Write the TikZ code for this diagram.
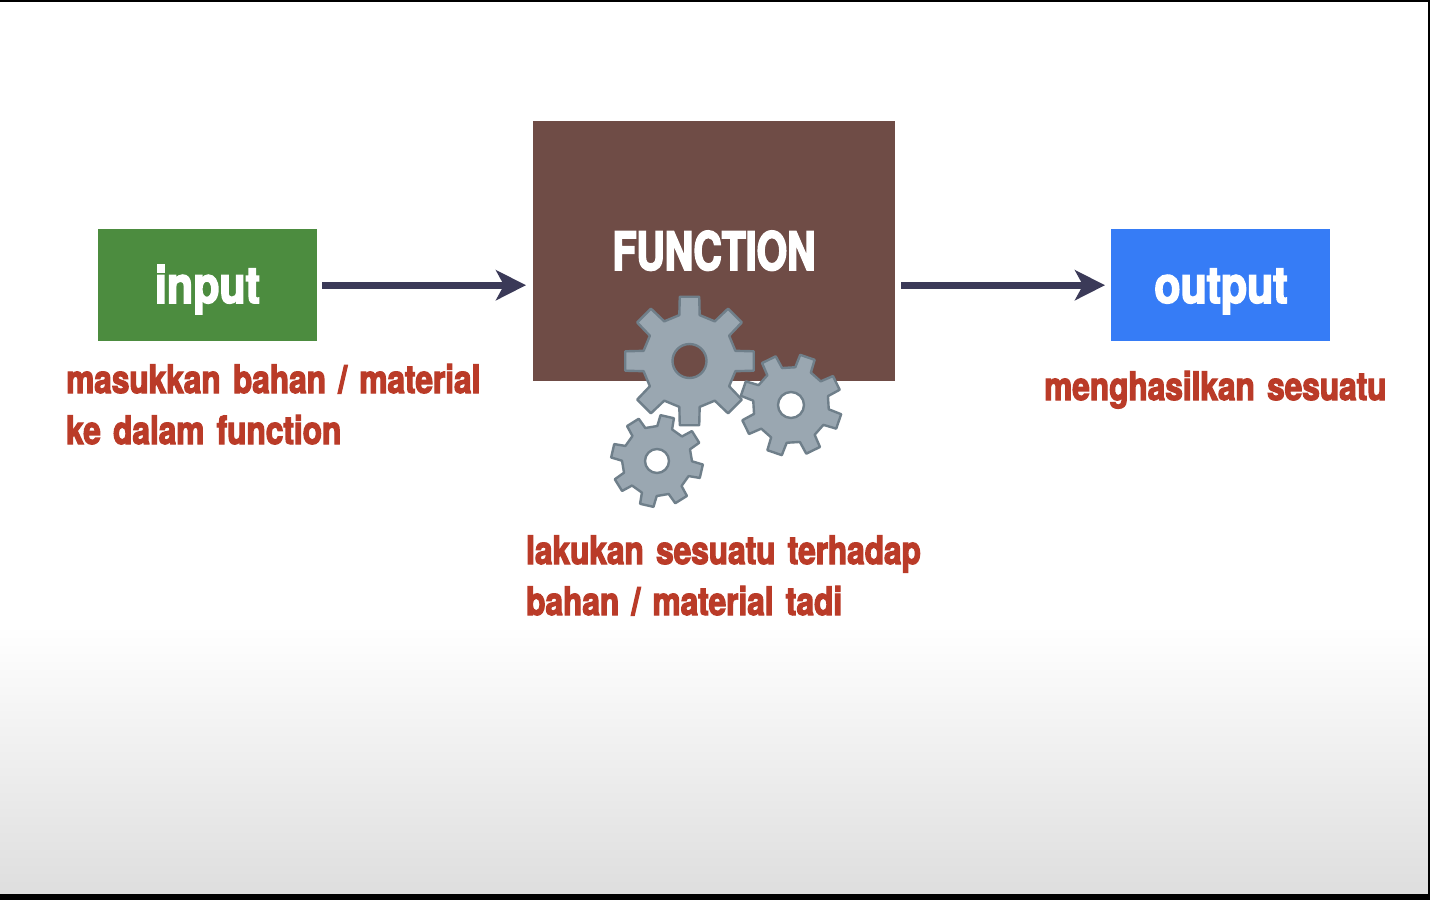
\documentclass[tikz,border=0pt]{standalone}
\usepackage{fontspec}
\newfontfamily\heavy[FakeStretch=0.81,FakeBold=3,WordSpace=1.4]{TeX Gyre Heros Bold}
\newfontfamily\heavywide[FakeStretch=0.84,FakeBold=3]{TeX Gyre Heros Bold}
\newfontfamily\heavycaps[FakeStretch=0.74,FakeBold=3]{TeX Gyre Heros Bold}
\usetikzlibrary{arrows.meta,calc}
\definecolor{inputgreen}{HTML}{4C8C3F}
\definecolor{funcbrown}{HTML}{6F4C46}
\definecolor{outputblue}{HTML}{367CF6}
\definecolor{arrowink}{HTML}{3B3A58}
\definecolor{redtext}{HTML}{BA3B28}
\definecolor{gearfill}{HTML}{9AA7B1}
\definecolor{gearline}{HTML}{6F7F8A}
\definecolor{fadeend}{HTML}{DEDEDE}
\tikzset{
  block/.style={draw=none,inner sep=0pt,minimum height=112pt,minimum width=219pt},
  blocktext/.style={text=white,inner sep=0pt,anchor=base,font=\heavywide\fontsize{51}{55}\selectfont},
  note/.style={text=redtext,inner sep=0pt,anchor=base west,font=\heavy\fontsize{39}{51}\selectfont},
  flow/.style={line width=7pt,draw=arrowink,-{Stealth[length=30pt,width=30pt,inset=8pt,fill=arrowink]}},
  gearbody/.style={fill=gearfill,draw=gearline,line width=2.4pt,even odd rule,line join=round}
}
\newcommand{\gearshape}[6]{% cx cy outer root hole rot
  \path[gearbody]
  ({#1+#4*sin(#6-12.5)},{#2-#4*cos(#6-12.5)})
  foreach \a [evaluate=\a as \b using {#6+45*\a}] in {0,...,7}{
    -- ({#1+#4*sin(\b-12.5)},{#2-#4*cos(\b-12.5)})
    -- ({#1+#3*sin(\b-8.6)},{#2-#3*cos(\b-8.6)})
    -- ({#1+#3*sin(\b+8.6)},{#2-#3*cos(\b+8.6)})
    -- ({#1+#4*sin(\b+12.5)},{#2-#4*cos(\b+12.5)})
    -- ({#1+#4*sin(\b+32.5)},{#2-#4*cos(\b+32.5)})
  } -- cycle
  (#1,#2) circle[radius=#5];
}
\begin{document}
\begin{tikzpicture}[x=1pt,y=-1pt]
\useasboundingbox (0,0) rectangle (1430,900);
\fill[white] (0,0) rectangle (1430,900);
\shade[top color=white,bottom color=fadeend] (0,625) rectangle (1430,894);
\fill[black] (0,0) rectangle (1430,2);
\fill[black] (1428,0) rectangle (1430,900);
\fill[black] (0,894) rectangle (1430,900);
\node[block,fill=inputgreen,anchor=north west] (input) at (98,229) {};
\node[block,fill=funcbrown,anchor=north west,minimum width=362pt,minimum height=260pt] (func) at (533,121) {};
\node[block,fill=outputblue,anchor=north west] (output) at (1111,229) {};
\node[blocktext] (inlabel) at (207.5,303) {input};
\node[blocktext,font=\heavycaps\fontsize{53}{55}\selectfont] (funclabel) at (714,270) {FUNCTION};
\node[blocktext] (outlabel) at (1221,303) {output};
\draw[flow,shorten <=5pt,shorten >=7pt] (input.east) -- (input.east -| func.west);
\draw[flow,shorten <=6pt,shorten >=6pt] (input.east -| func.east) -- (output.west);
\gearshape{657}{461}{46}{35}{12}{13}
\gearshape{791}{405}{51}{38}{13}{19}
\gearshape{689.5}{361}{65}{47}{17}{0}
\node[note] (noteina) at (66,393) {masukkan bahan / material};
\node[note] (noteinb) at (66,444) {ke dalam function};
\node[note] (noteout) at (1044,400) {menghasilkan sesuatu};
\node[note] (notefunca) at (526,564) {lakukan sesuatu terhadap};
\node[note] (notefuncb) at (526,615) {bahan / material tadi};
\end{tikzpicture}
\end{document}
